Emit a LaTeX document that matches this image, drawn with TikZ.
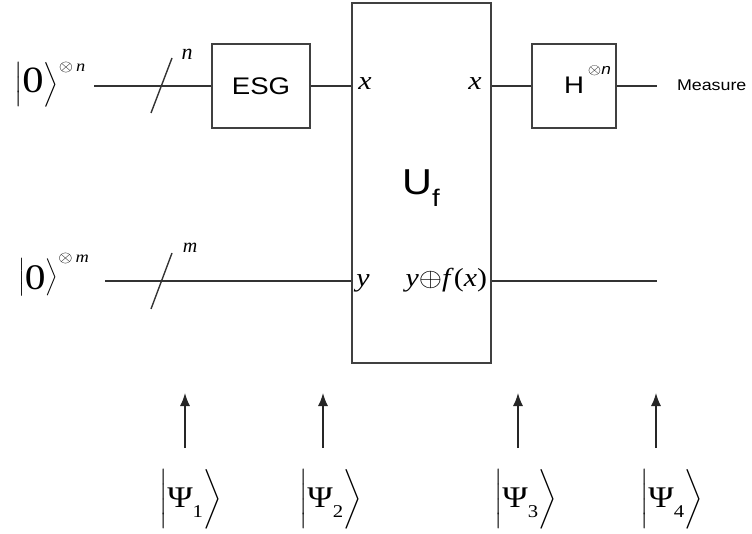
\RequirePackage{fix-cm}
\documentclass[tikz,border=0pt]{standalone}
\usepackage{exscale}
\usepackage{fontspec}
\usepackage{graphicx}
\setmainfont{Liberation Serif}
\newfontfamily\arialf{Liberation Sans}
\usetikzlibrary{arrows.meta}
\delimiterfactor=1000
\delimitershortfall=0pt
\newcommand{\wide}[1]{\scalebox{1.15}[1]{#1}}
\newcommand{\fs}[1]{\fontsize{#1}{#1}\selectfont}
% #1 math size, #2 content, #3 rule height, #4 rule depth
\newcommand{\kett}[4]{{\fs{#1}$\left|\rule[-#4]{0pt}{\dimexpr#3+#4\relax}\mbox{#2}\right\rangle$}}
\tikzset{
  wire/.style={draw=black!80, line width=1.4pt},
  gate/.style={draw=black!75, line width=1.4pt, rectangle, inner sep=0pt},
  arr/.style={draw=black!85, line width=1.4pt, -{Latex[length=13pt,width=10pt]}},
  lbl/.style={inner sep=0pt, outer sep=0pt},
}
\begin{document}
\begin{tikzpicture}[x=1pt,y=-1pt]
\useasboundingbox (0,0) rectangle (752,534);
% gates
\node[gate, minimum width=98pt, minimum height=84pt] (esg) at (261,86) {\arialf\fs{24}\wide{ESG}};
\node[gate, minimum width=139pt, minimum height=360pt] (uf) at (421.5,183) {};
\node[gate, minimum width=84pt, minimum height=84pt] (hg) at (574,86) {};
\node[lbl, anchor=base] (uflab) at (421,195) {\arialf\fs{36}\wide{U\raisebox{-12pt}{\fs{24}f}}};
\node[lbl, anchor=base west] (hlab) at (564,94) {\arialf\fs{24}\wide{H}\,\raisebox{19pt}{\fs{15}\wide{$\otimes$\textit{n}}}};
\node[lbl, anchor=base west] (meas) at (677,91) {\arialf\fs{15.5}\wide{Measure}};
% wires
\coordinate (tin) at (94,86);
\coordinate (tout) at (657,86);
\coordinate (bin) at (105,281);
\coordinate (bout) at (657,281);
\draw[wire] (tin) -- (esg.west);
\draw[wire] (esg.east) -- (esg.east -| uf.west);
\draw[wire] (hg.west -| uf.east) -- (hg.west);
\draw[wire] (hg.east) -- (tout);
\draw[wire] (bin) -- (bin -| uf.west);
\draw[wire] (bout -| uf.east) -- (bout);
% slashes
\coordinate (s1a) at (151,113);
\coordinate (s1b) at (172,58);
\coordinate (s2a) at (151,309);
\coordinate (s2b) at (172,253);
\draw[wire] (s1a) -- (s1b);
\draw[wire] (s2a) -- (s2b);
\node[lbl, anchor=base] (nlab) at (187,60) {\fs{22}\textit{n}};
\node[lbl, anchor=base] (mlab) at (190,253) {\fs{20}\textit{m}};
% inputs
\node[lbl, anchor=base west] (k1) at (14,90.75) {\kett{25}{\raisebox{-2.25pt}{\fs{37}\wide{0}}}{28.5pt}{16pt}\raisebox{19.5pt}{\fs{16}\wide{$\otimes$\,\textit{n}}}};
\node[lbl, anchor=base west] (k2) at (18,282.4) {\kett{19.4}{\raisebox{-7.6pt}{\fs{36}\wide{0}}}{22pt}{12.3pt}\raisebox{20pt}{\fs{16}\wide{$\otimes$\,\textit{m}}}};
% Uf labels
\node[lbl, anchor=base] (xin) at (365,90) {\fs{26}\wide{\textit{x}}};
\node[lbl, anchor=base] (xout) at (475,90) {\fs{26}\wide{\textit{x}}};
\node[lbl, anchor=base] (yin) at (363,287) {\fs{26}\wide{\textit{y}}};
\node[lbl, anchor=base east] (yout) at (487,287) {\fs{26}\wide{\textit{y}$\oplus$\textit{f}(\textit{x})}};
% arrows
\foreach \i/\xx in {1/185,2/323,3/518,4/656}{
  \coordinate (a\i s) at (\xx,448);
  \coordinate (a\i e) at (\xx,393);
  \draw[arr] (a\i s) -- (a\i e);
}
% states
\node[lbl, anchor=base west] (psi1) at (159,505.75) {\kett{27}{\raisebox{-1.25pt}{\fs{30}\wide{Ψ\raisebox{-10pt}{\fs{18}1}}}}{31pt}{17.5pt}};
\node[lbl, anchor=base west] (psi2) at (299,505.75) {\kett{27}{\raisebox{-1.25pt}{\fs{30}\wide{Ψ\raisebox{-10pt}{\fs{18}2}}}}{31pt}{17.5pt}};
\node[lbl, anchor=base west] (psi3) at (494,505.75) {\kett{27}{\raisebox{-1.25pt}{\fs{30}\wide{Ψ\raisebox{-10pt}{\fs{18}3}}}}{31pt}{17.5pt}};
\node[lbl, anchor=base west] (psi4) at (640,505.75) {\kett{27}{\raisebox{-1.25pt}{\fs{30}\wide{Ψ\raisebox{-10pt}{\fs{18}4}}}}{31pt}{17.5pt}};
\end{tikzpicture}
\end{document}
